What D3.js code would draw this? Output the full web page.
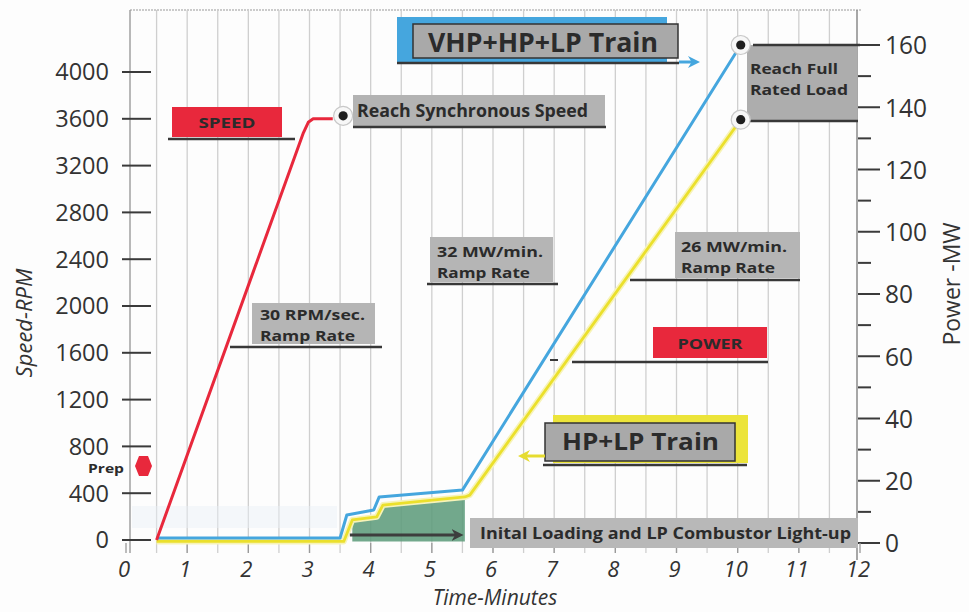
<!DOCTYPE html>
<html><head><meta charset="utf-8">
<script src="https://cdn.jsdelivr.net/npm/d3@7"></script>
<style>body{margin:0;background:#fff} svg{display:block}</style>
</head><body>
<svg id="c" width="969" height="612"></svg>
<script>
// ---------- data ----------
const xTicks = [0,1,2,3,4,5,6,7,8,9,10,11,12];
const gridMinutes = [0.5,1,1.5,2,2.5,3,3.5,4,4.5,5,5.5,6,6.5,7,7.5,8,8.5,9,9.5,10,10.5,11,11.5];
const rpmTicks = [0,400,800,1200,1600,2000,2400,2800,3200,3600,4000];
const mwTicks = [0,20,40,60,80,100,120,140,160];
const mwMinorTicks = [10,30,50,70,90,110,130,150];
const speedTime = [0.5, 2.9, 2.98, 3.06, 3.38];
const speedRpm  = [0, 3480, 3570, 3600, 3600];
const vhpTime = [0.5, 3.5, 3.61, 4.05, 4.14, 5.5, 10.05];
const vhpMw   = [1.6, 1.6, 9.0, 10.6, 14.8, 17.0, 160];
const hpTime  = [0.5, 3.56, 3.7, 4.1, 4.2, 5.54, 5.62, 10.05];
const hpMw    = [0.5, 0.5, 7.4, 8.4, 12.2, 14.8, 15.4, 136];

// ---------- setup ----------
const svg = d3.select('#c');
const W = 969, H = 612;
const x = d3.scaleLinear().domain([0,12]).range([126, 860]);
const yR = d3.scaleLinear().domain([0,4000]).range([540, 72]);
const yP = d3.scaleLinear().domain([0,160]).range([543, 45]);
const FONT = "'Open Sans', 'Noto Sans', sans-serif";
const TXT = '#2b2b2b';

svg.append('rect').attr('width',W).attr('height',H).attr('fill','#fdfdfd');

const defs = svg.append('defs');
function marker(id, color){
  defs.append('marker').attr('id',id).attr('viewBox','0 0 10 10')
    .attr('refX',5).attr('refY',5).attr('markerWidth',4).attr('markerHeight',4)
    .attr('orient','auto-start-reverse')
    .append('path').attr('d','M0,0 L10,5 L0,10 L3,5 Z').attr('fill',color);
}
marker('arrDark','#3d3d3d'); marker('arrBlue','#45a6de'); marker('arrYel','#e6dc30');

// frame (top)
svg.append('line').attr('x1',130).attr('x2',862).attr('y1',10).attr('y2',10)
  .attr('stroke','#9a9a9a').attr('stroke-width',1.2).attr('stroke-dasharray','2,1');
// left axis line
svg.append('line').attr('x1',130).attr('x2',130).attr('y1',10).attr('y2',553)
  .attr('stroke','#9a9a9a').attr('stroke-width',1.4);

// vertical grid lines every half minute
svg.append('g').selectAll('line').data(gridMinutes).join('line')
  .attr('x1',d=>x(d)).attr('x2',d=>x(d)).attr('y1',10).attr('y2',553)
  .attr('stroke','#cfcfcf').attr('stroke-width',1.3);

// faint haze band
svg.append('rect').attr('x',132).attr('y',506).attr('width',205).attr('height',22)
  .attr('fill','#e9f0f6').attr('opacity',0.45);

// left axis ticks + labels
const gl = svg.append('g');
gl.selectAll('line').data(rpmTicks).join('line')
  .attr('x1',122).attr('x2',151).attr('y1',d=>yR(d)).attr('y2',d=>yR(d))
  .attr('stroke','#3a3a3a').attr('stroke-width',2);
gl.selectAll('text').data(rpmTicks).join('text')
  .attr('x',109).attr('y',d=>yR(d)).attr('dy','0.36em')
  .attr('text-anchor','end').attr('font-family',FONT).attr('font-size',23.5)
  .attr('fill','#333').text(d=>d);

// right axis
svg.append('line').attr('x1',857).attr('x2',857).attr('y1',10).attr('y2',560)
  .attr('stroke','#8a8a8a').attr('stroke-width',1.5);
const gr = svg.append('g');
gr.selectAll('line.maj').data(mwTicks).join('line').attr('class','maj')
  .attr('x1',858).attr('x2',880).attr('y1',d=>yP(d)).attr('y2',d=>yP(d))
  .attr('stroke','#3a3a3a').attr('stroke-width',2);
gr.selectAll('line.min').data(mwMinorTicks).join('line').attr('class','min')
  .attr('x1',858).attr('x2',871).attr('y1',d=>yP(d)).attr('y2',d=>yP(d))
  .attr('stroke','#3a3a3a').attr('stroke-width',2);
gr.selectAll('text').data(mwTicks).join('text')
  .attr('x',885).attr('y',d=>yP(d)).attr('dy','0.36em')
  .attr('font-family',FONT).attr('font-size',26).attr('fill','#333')
  .attr('textLength',d=>String(d).length*14).attr('lengthAdjust','spacingAndGlyphs')
  .text(d=>d);

// x axis labels + small ticks
const gx = svg.append('g');
gx.selectAll('line').data(xTicks).join('line')
  .attr('x1',d=>x(d)).attr('x2',d=>x(d)).attr('y1',543).attr('y2',553)
  .attr('stroke','#9a9a9a').attr('stroke-width',1.3);
gx.selectAll('text').data(xTicks).join('text')
  .attr('x',d=>x(d)-2).attr('y',577).attr('text-anchor','middle')
  .attr('font-family',FONT).attr('font-style','italic').attr('font-size',22)
  .attr('fill','#333').text(d=>d);

// axis titles
svg.append('text').attr('transform','translate(32,323) rotate(-90)')
  .attr('text-anchor','middle').attr('font-family',FONT).attr('font-style','italic')
  .attr('font-size',22).attr('fill','#333').text('Speed-RPM');
svg.append('text').attr('transform','translate(960,284) rotate(-90)')
  .attr('text-anchor','middle').attr('font-family',FONT)
  .attr('font-size',23).attr('fill','#333').text('Power -MW');
svg.append('text').attr('x',495).attr('y',605).attr('text-anchor','middle')
  .attr('font-family',FONT).attr('font-style','italic').attr('font-size',21)
  .attr('fill','#333').text('Time-Minutes');

// ---------- data series ----------
const hpData = hpTime.map((t,i)=>({t, v:hpMw[i]}));
const vhpData = vhpTime.map((t,i)=>({t, v:vhpMw[i]}));
const spData = speedTime.map((t,i)=>({t, v:speedRpm[i]}));

// green fill under HP+LP during initial loading
const fillData = hpData.filter(d=>d.t>=3.6 && d.t<=5.54);
svg.append('path').datum(fillData)
  .attr('d', d3.area().x(d=>x(d.t)).y0(yP(hpMw[0])).y1(d=>yP(d.v)))
  .attr('fill','#5f9c7c').attr('opacity',0.88);

const lineP = d3.line().x(d=>x(d.t)).y(d=>yP(d.v));
svg.append('path').datum(hpData).attr('d',lineP).attr('fill','none')
  .attr('stroke','#f7f3b8').attr('stroke-width',6).attr('stroke-linejoin','round');
svg.append('path').datum(hpData).attr('d',lineP).attr('fill','none')
  .attr('stroke','#ebe02c').attr('stroke-width',2.8).attr('stroke-linejoin','round');
svg.append('path').datum(vhpData).attr('d',lineP).attr('fill','none')
  .attr('stroke','#45a6de').attr('stroke-width',3).attr('stroke-linejoin','round');

const lineR = d3.line().x(d=>x(d.t)).y(d=>yR(d.v));
svg.append('path').datum(spData).attr('d',lineR).attr('fill','none')
  .attr('stroke','#e8283c').attr('stroke-width',3).attr('stroke-linejoin','round');

// dark arrow under the fill
svg.append('line').attr('x1',x(3.66)).attr('x2',x(5.42)).attr('y1',535).attr('y2',535)
  .attr('stroke','#3d3d3d').attr('stroke-width',3).attr('marker-end','url(#arrDark)');

// ---------- annotations ----------
function box(x0,y0,w,h,fill,stroke){
  svg.append('rect').attr('x',x0).attr('y',y0).attr('width',w).attr('height',h)
    .attr('fill',fill).attr('stroke',stroke||'none').attr('stroke-width',stroke?1.5:0);
}
function uline(x1,x2,yy,w){
  svg.append('line').attr('x1',x1).attr('x2',x2).attr('y1',yy).attr('y2',yy)
    .attr('stroke','#383838').attr('stroke-width',w||2.5);
}
function txt(s,xx,yy,size,len,anchor){
  const t = svg.append('text').attr('x',xx).attr('y',yy).attr('font-family',FONT)
    .attr('font-weight','bold').attr('font-size',size).attr('fill',TXT)
    .attr('text-anchor',anchor||'start').text(s);
  if(len) t.attr('textLength',len).attr('lengthAdjust','spacingAndGlyphs');
}
function dot(cx,cy){
  svg.append('circle').attr('cx',cx).attr('cy',cy).attr('r',9.5)
    .attr('fill','#f7f7f7').attr('stroke','#c8c8c8').attr('stroke-width',1.2);
  svg.append('circle').attr('cx',cx).attr('cy',cy).attr('r',4.6).attr('fill','#1e1e1e');
}

// SPEED
box(172,107,110,30,'#e8283c');
uline(168,295,139);
txt('SPEED',227,128,15,57,'middle');

// Reach Synchronous Speed
box(353,95,252,32,'#b3b3b3');
uline(353,606,127);
txt('Reach Synchronous Speed',357,117,17,231);
dot(x(3.55), yR(3600)-3);

// VHP+HP+LP Train
box(397,17,270,45,'#45a6de');
box(413,24,265,34,'#a9a9a9','#333');
uline(397,679,63,2.5);
txt('VHP+HP+LP Train',428,52,26,230);
svg.append('line').attr('x1',679).attr('x2',694).attr('y1',62).attr('y2',62)
  .attr('stroke','#45a6de').attr('stroke-width',3).attr('marker-end','url(#arrBlue)');

// Reach Full Rated Load
box(747,45,110,75,'#adadad');
uline(753,860,45);
uline(747,858,121);
txt('Reach Full',750,74,15,88);
txt('Rated Load',750,95,15,98);
dot(x(10.05), yP(160));
dot(x(10.05), yP(136));

// 30 RPM/sec
box(252,303,123,41,'#b5b5b5');
uline(230,382,347);
txt('30 RPM/sec.',260,320,15,105);
txt('Ramp Rate',260,341,15,95);

// 32 MW/min
box(430,237,123,45,'#b5b5b5');
uline(427,558,284);
txt('32 MW/min.',437,257,15,106);
txt('Ramp Rate',437,278,15,93);

// 26 MW/min
box(675,232,125,46,'#b5b5b5');
uline(630,800,280);
txt('26 MW/min.',681,252,15,106);
txt('Ramp Rate',681,273,15,94);

// POWER
box(653,327,114,31,'#e8283c');
uline(572,768,362);
uline(550,558,360,2);
txt('POWER',710,349,15,65,'middle');

// HP+LP Train
box(553,415,195,48,'#ece43a');
box(545,423,190,38,'#a9a9a9','#333');
uline(543,747,465,2.5);
txt('HP+LP Train',562,450,24,157);
svg.append('line').attr('x1',545).attr('x2',524).attr('y1',456).attr('y2',456)
  .attr('stroke','#e6dc30').attr('stroke-width',3).attr('marker-end','url(#arrYel)');

// Inital Loading
box(470,518,388,30,'#b8b8b8');
txt('Inital Loading and LP Combustor Light-up',480,539,16,371);

// Prep
svg.append('path')
  .attr('d', d3.line()([[135,466],[139,456],[148,456],[152,466],[148,476],[139,476]]) + 'Z')
  .attr('fill','#e8283c');
txt('Prep',124,473,13,36,'end');
</script>
</body></html>
